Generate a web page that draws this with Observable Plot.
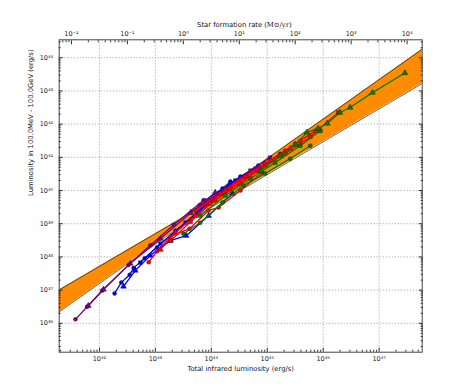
<!DOCTYPE html>
<html><head><meta charset="utf-8">
<script src="https://cdn.jsdelivr.net/npm/d3@7"></script>
<script src="https://cdn.jsdelivr.net/npm/@observablehq/plot@0.6"></script>
<style>body{margin:0;background:#fff;} svg{display:block;}</style>
</head><body><div id="chart"></div>
<script>
// All values are log10 (exponents).
// Orange band (gamma-ray / IR relation with uncertainty)
const bandLogLir = [41.0, 43.585, 48.0];
const bandLogLgHigh = [36.73, 39.28, 44.53];
const bandLogLgLow = [36.01, 39.08, 43.45];

// Model tracks: log10 total IR luminosity (erg/s) and log10 gamma luminosity (erg/s)
const purpleA_lir = [41.57, 41.78, 42.05, 42.52, 42.91, 43.33, 43.86];
const purpleA_lg  = [36.12, 36.50, 36.99, 37.76, 38.35, 38.97, 39.71];
const purpleB_lir = [41.80, 42.07, 42.55, 43.09, 43.63, 44.07];
const purpleB_lg  = [36.53, 37.02, 37.80, 38.55, 39.33, 39.94];
const purpleC_lir = [43.80, 44.25, 44.70, 45.05];
const purpleC_lg  = [39.55, 40.06, 40.60, 40.99];
const purpleD_lir = [43.89, 44.34, 44.79, 45.23];
const purpleD_lg  = [39.55, 40.12, 40.60, 41.11];
const blueA_lir = [42.27, 42.39, 42.54, 42.61, 42.81, 43.03, 43.36, 43.80, 44.34];
const blueA_lg  = [36.90, 37.23, 37.46, 37.67, 37.96, 38.29, 38.79, 39.40, 40.27];
const blueB_lir = [42.43, 42.64, 42.91, 43.27, 43.55, 43.95, 44.38];
const blueB_lg  = [37.11, 37.59, 38.04, 38.49, 38.64, 39.24, 39.91];
const blueC_lir = [42.73, 43.09, 43.54, 43.98, 44.43, 44.79];
const blueC_lg  = [37.83, 38.40, 39.03, 39.70, 40.30, 40.66];
const blueD_lir = [43.89, 44.20, 44.52, 44.84];
const blueD_lg  = [39.70, 40.06, 40.42, 40.75];
const redA_lir = [42.88, 43.03, 43.27, 43.61, 43.95, 44.13, 44.52, 44.91];
const redA_lg  = [37.84, 38.17, 38.61, 38.85, 39.40, 39.49, 40.00, 40.54];
const redB_lir = [43.09, 43.36, 43.71, 44.07, 44.52, 44.96, 45.41];
const redB_lg  = [38.22, 38.73, 39.24, 39.70, 40.21, 40.75, 41.26];
const redC_lir = [43.27, 43.63, 43.98, 44.34, 44.84, 45.32, 45.77, 46.27];
const redC_lg  = [38.49, 39.06, 39.61, 40.06, 40.60, 41.11, 41.62, 42.35];
const redD_lir = [43.71, 44.16, 44.61, 45.05, 45.50, 45.91];
const redD_lg  = [39.40, 39.91, 40.45, 40.90, 41.41, 41.86];
const redE_lir = [44.25, 44.61, 44.96, 45.32, 45.59, 45.86];
const redE_lg  = [40.00, 40.42, 40.81, 41.20, 41.50, 41.80];
const greenA_lir = [43.50, 43.80, 44.20, 44.57, 44.96, 45.41, 45.77];
const greenA_lg  = [38.70, 39.03, 39.64, 40.15, 40.51, 40.96, 41.35];
const greenB_lir = [44.88, 45.23, 45.50, 45.71, 45.91, 46.07, 46.30, 46.48, 46.88, 47.46];
const greenB_lg  = [40.60, 41.05, 41.38, 41.75, 41.87, 42.02, 42.35, 42.50, 42.95, 43.54];
const greenC_lir = [43.80, 44.25, 44.70, 45.14, 45.59, 45.95];
const greenC_lg  = [39.24, 39.85, 40.36, 40.84, 41.35, 41.80];

// Axis ticks
const xTicks = [42, 43, 44, 45, 46, 47];
const yTicks = [36, 37, 38, 39, 40, 41, 42, 43, 44];
const sfrTicks = [-2, -1, 0, 1, 2, 3, 4];
const sfrZeroLogLir = 43.5; // log L_IR at SFR = 1 Msun/yr

// Series table (styles kept separate)
const series = [
  {name: "blueA", lir: blueA_lir, lg: blueA_lg},
  {name: "blueB", lir: blueB_lir, lg: blueB_lg},
  {name: "blueC", lir: blueC_lir, lg: blueC_lg},
  {name: "blueD", lir: blueD_lir, lg: blueD_lg},
  {name: "purpleA", lir: purpleA_lir, lg: purpleA_lg},
  {name: "purpleB", lir: purpleB_lir, lg: purpleB_lg},
  {name: "purpleC", lir: purpleC_lir, lg: purpleC_lg},
  {name: "purpleD", lir: purpleD_lir, lg: purpleD_lg},
  {name: "redA", lir: redA_lir, lg: redA_lg},
  {name: "redB", lir: redB_lir, lg: redB_lg},
  {name: "redC", lir: redC_lir, lg: redC_lg},
  {name: "redD", lir: redD_lir, lg: redD_lg},
  {name: "redE", lir: redE_lir, lg: redE_lg},
  {name: "greenA", lir: greenA_lir, lg: greenA_lg},
  {name: "greenC", lir: greenC_lir, lg: greenC_lg},
  {name: "greenB", lir: greenB_lir, lg: greenB_lg}
];
const styleColor = {blue: "#0000ff", purple: "#800080", red: "#ff0000", green: "#008000"};
const styleSymbol = {A: "circle", B: "triangle", C: "square", D: "circle", E: "circle"};
const styleRadius = {circle: 2.0, triangle: 2.2, square: 2.1};

const supMap = {"-": "\u207B", "0": "\u2070", "1": "\u00B9", "2": "\u00B2", "3": "\u00B3", "4": "\u2074", "5": "\u2075", "6": "\u2076", "7": "\u2077", "8": "\u2078", "9": "\u2079"};
const sup = n => String(n).split("").map(c => supMap[c]).join("");
const pow = v => "10" + sup(Math.round(v));
const blank = () => "";

const band = bandLogLir.map((x, i) => ({x, lo: bandLogLgLow[i], hi: bandLogLgHigh[i]}));

const minor = (lo, hi) => {
  const out = [];
  for (let d = Math.floor(lo); d <= Math.ceil(hi); d++)
    for (let k = 2; k <= 9; k++) { const v = d + Math.log10(k); if (v > lo && v < hi) out.push(v); }
  return out;
};
const xDomain = [41.28, 47.77], yDomain = [35.13, 44.54];
const sfrMajor = sfrTicks.map(k => sfrZeroLogLir + k);
const sfrMinor = minor(xDomain[0] - sfrZeroLogLir, xDomain[1] - sfrZeroLogLir).map(v => v + sfrZeroLogLir);

const marks = [
  Plot.gridX(xTicks, {stroke: "#9a9a9a", strokeOpacity: 1, strokeDasharray: "1.2,1.8", strokeWidth: 0.8}),
  Plot.gridY(yTicks, {stroke: "#9a9a9a", strokeOpacity: 1, strokeDasharray: "1.2,1.8", strokeWidth: 0.8}),
  Plot.areaY(band, {x: "x", y1: "lo", y2: "hi", fill: "#ff8c00", fillOpacity: 1, curve: "linear", clip: true}),
  Plot.line(band, {x: "x", y: "hi", stroke: "#222", strokeWidth: 0.7, clip: true}),
  Plot.line(band, {x: "x", y: "lo", stroke: "#222", strokeWidth: 0.7, clip: true})
];
for (const s of series) {
  const color = styleColor[s.name.replace(/[A-Z]$/, "")];
  const sym = styleSymbol[s.name.slice(-1)];
  const pts = s.lir.map((x, i) => ({x, y: s.lg[i]}));
  marks.push(Plot.line(pts, {x: "x", y: "y", stroke: color, strokeWidth: 1.3, clip: true}));
  marks.push(Plot.dot(pts, {x: "x", y: "y", fill: color, stroke: "#111", strokeWidth: 0.4, r: styleRadius[sym], symbol: sym, clip: true}));
}
const tickOpts = {tickFormat: blank, label: null, stroke: "#333"};
marks.push(
  Plot.frame({stroke: "#444", strokeWidth: 1}),
  // bottom axis
  Plot.axisX({anchor: "bottom", ticks: xTicks, tickSize: 0, tickPadding: 4, tickFormat: pow, fontSize: 6.5, label: null}),
  Plot.axisX({anchor: "bottom", ticks: xTicks, tickSize: -4, ...tickOpts}),
  Plot.axisX({anchor: "bottom", ticks: minor(...xDomain), tickSize: -2, ...tickOpts}),
  // top axis (SFR)
  Plot.axisX({anchor: "top", ticks: sfrMajor, tickSize: 0, tickPadding: 4, tickFormat: v => pow(v - sfrZeroLogLir), fontSize: 6.5, label: null}),
  Plot.axisX({anchor: "top", ticks: sfrMajor, tickSize: -4, ...tickOpts}),
  Plot.axisX({anchor: "top", ticks: sfrMinor, tickSize: -2, ...tickOpts}),
  // left axis
  Plot.axisY({anchor: "left", ticks: yTicks, tickSize: 0, tickPadding: 6, tickFormat: pow, fontSize: 6.5, label: null}),
  Plot.axisY({anchor: "left", ticks: yTicks, tickSize: -4, ...tickOpts}),
  Plot.axisY({anchor: "left", ticks: minor(...yDomain), tickSize: -2, ...tickOpts}),
  Plot.axisY({anchor: "right", ticks: yTicks, tickSize: -4, ...tickOpts}),
  Plot.axisY({anchor: "right", ticks: minor(...yDomain), tickSize: -2, ...tickOpts}),
  // axis titles
  Plot.text(["Total infrared luminosity (erg/s)"], {frameAnchor: "bottom", dy: 18.5, fontSize: 6.8, fill: "#111"}),
  Plot.text(["Luminosity in 100.0MeV - 100.0GeV (erg/s)"], {frameAnchor: "left", dx: -28, rotate: -90, fontSize: 6.8, fill: "#111"}),
  Plot.text(["Star formation rate"], {frameAnchor: "top", dx: 21.5, dy: -18, textAnchor: "end", fontSize: 6.8, fill: "#111"}),
  Plot.text(["(M\u2299/yr)"], {frameAnchor: "top", dx: 23.5, dy: -18, textAnchor: "start", fontSize: 6.8, fill: "#111", fontFamily: "DejaVu Serif"})
);

const chart = Plot.plot({
  width: 469,
  height: 391,
  marginLeft: 58.7,
  marginRight: 47.3,
  marginTop: 39.3,
  marginBottom: 39.3,
  style: {fontFamily: "DejaVu Sans", background: "#fff", color: "#222"},
  x: {type: "linear", domain: xDomain},
  y: {type: "linear", domain: yDomain},
  marks
});
document.getElementById("chart").appendChild(chart);
</script>
</body></html>
